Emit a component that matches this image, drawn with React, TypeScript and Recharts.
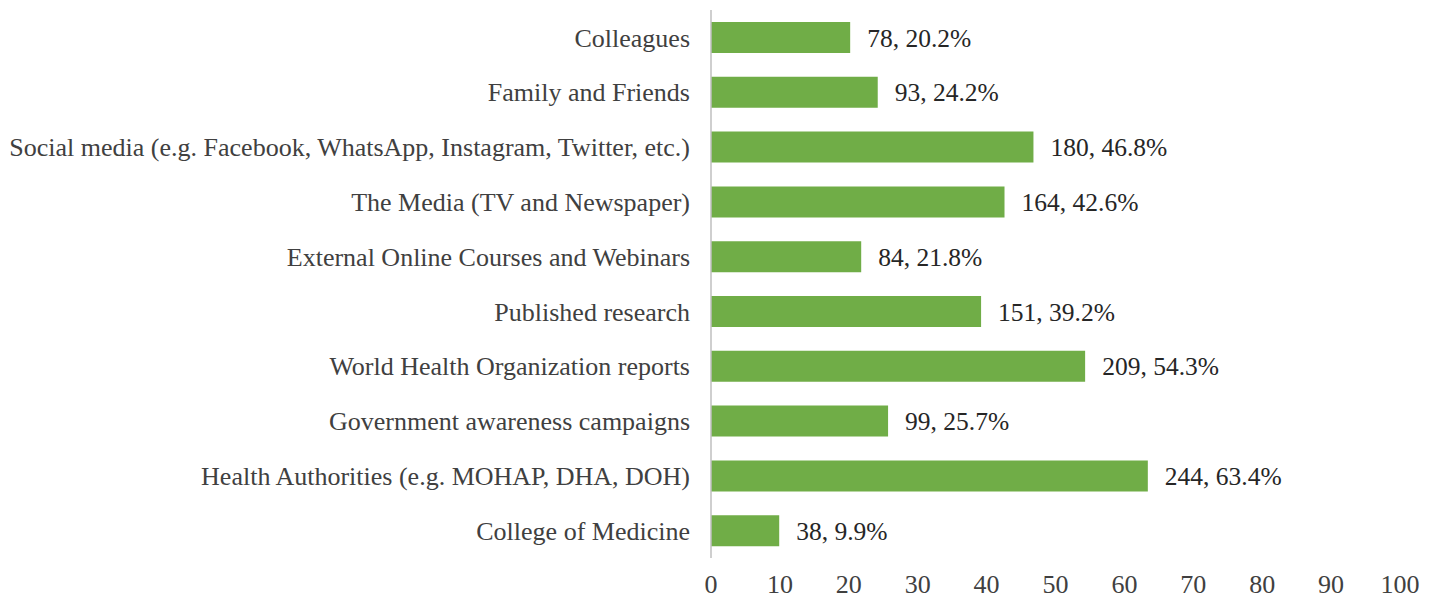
import { Bar, BarChart, LabelList, XAxis, YAxis } from 'recharts'

const categories = [
  'Colleagues',
  'Family and Friends',
  'Social media (e.g. Facebook, WhatsApp, Instagram, Twitter, etc.)',
  'The Media (TV and Newspaper)',
  'External Online Courses and Webinars',
  'Published research',
  'World Health Organization reports',
  'Government awareness campaigns',
  'Health Authorities (e.g. MOHAP, DHA, DOH)',
  'College of Medicine',
]
const counts = [78, 93, 180, 164, 84, 151, 209, 99, 244, 38]
const percents = [20.2, 24.2, 46.8, 42.6, 21.8, 39.2, 54.3, 25.7, 63.4, 9.9]
const xTicks = [0, 10, 20, 30, 40, 50, 60, 70, 80, 90, 100]

const data = categories.map((name, i) => ({
  name,
  pct: percents[i],
  label: `${counts[i]}, ${percents[i]}%`,
}))

const FONT = '"Liberation Serif", "Times New Roman", serif'
const TICK = { fontSize: 26, fill: '#404040', fontFamily: FONT }

export default function App() {
  return (
    <div style={{ position: 'absolute', left: 0, top: 0, background: '#fff' }}>
      <BarChart
        width={1439}
        height={601}
        data={data}
        layout="vertical"
        margin={{ top: 10, right: 39, left: 0, bottom: 0 }}
        barCategoryGap={12}
      >
        <XAxis
          type="number"
          domain={[0, 100]}
          ticks={xTicks}
          tick={TICK}
          tickLine={false}
          axisLine={false}
          tickSize={0}
          tickMargin={17}
          height={43}
        />
        <YAxis
          type="category"
          dataKey="name"
          width={711}
          tick={TICK}
          tickLine={false}
          tickSize={0}
          tickMargin={21}
          axisLine={{ stroke: '#bfbfbf', strokeWidth: 1.5 }}
          interval={0}
        />
        <Bar dataKey="pct" fill="#70ad47" barSize={31} isAnimationActive={false}>
          <LabelList
            dataKey="label"
            position="right"
            offset={17}
            style={{ fontSize: 25.5, fill: '#262626', fontFamily: FONT }}
          />
        </Bar>
      </BarChart>
    </div>
  )
}
